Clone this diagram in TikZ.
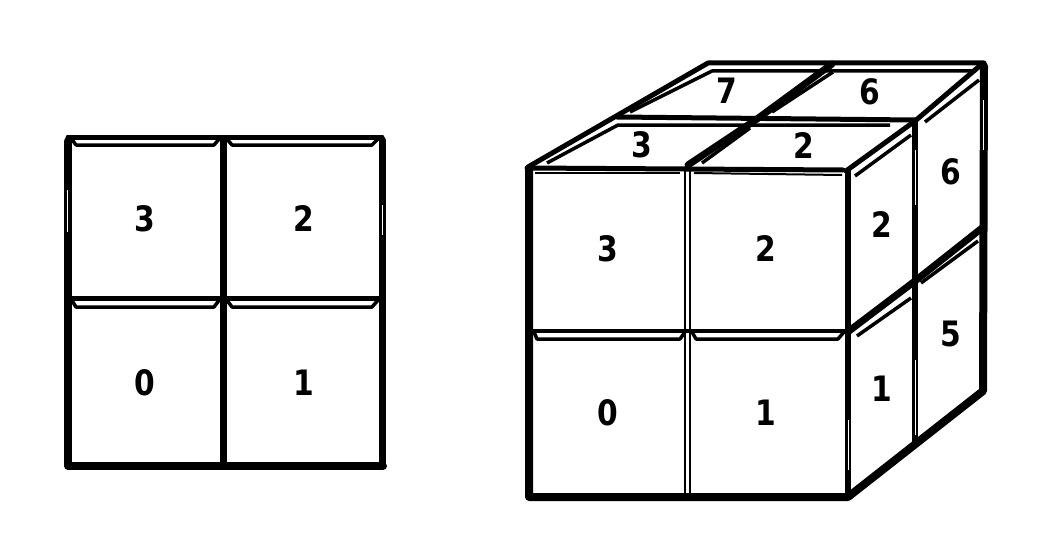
\documentclass[tikz,border=0pt]{standalone}
\usepackage{fontspec}
\setmainfont[FakeStretch=0.85]{DejaVu Sans}
\tikzset{
  x=1pt,y=-1pt,
  digit/.style={font=\fontsize{35}{35}\selectfont\bfseries,inner sep=0pt},
  heavy/.style={line width=8pt,line cap=round,line join=round},
  med/.style={line width=5pt,line cap=round,line join=round},
  lite/.style={line width=3.5pt,line join=round},
  fine/.style={line width=2pt,line join=round},
  slit/.style={white,line width=1pt}
}
\begin{document}
\begin{tikzpicture}
\useasboundingbox (0,0) rectangle (1053,543);
% ---------- left square
\draw[med] (68,137) -- (382,137);
\draw[heavy] (68,141) -- (68,466) -- (383,466);
\draw[line width=7pt,line cap=round] (382,140) -- (382,466);
\draw[line width=7pt] (223,137) -- (223,466);
\draw[med] (67,298) -- (382,298);
\foreach \ya/\yb in {137/145,298/307}{
  \draw[lite] (71,\ya+1) -- (76,\yb) -- (214,\yb) -- (220,\ya+1);
  \draw[lite] (226,\ya+1) -- (232,\yb) -- (372,\yb) -- (379,\ya+1);
}
\draw[slit] (67,190) -- (67,232);
\draw[slit] (382,205) -- (382,235);
\node[digit] (la) at (144.5,219) {3};
\node[digit] (lb) at (303.5,219) {2};
\node[digit] (lc) at (144.5,383) {0};
\node[digit] (ld) at (303.5,383) {1};
% ---------- cube: outline
\draw[heavy] (529,170) -- (529,497) -- (848,497) -- (983,391) -- (984,66);
\draw[med] (528,167) -- (708,63) -- (984,63);
\draw[line width=6.5pt] (848,170) -- (848,497);
\draw[line width=6pt] (915,122) -- (915,442);
\draw[slit] (848,420) -- (848,470);
\draw[slit] (915,360) -- (915,435);
\draw[slit] (915,150) -- (915,205);
\draw[slit] (983,100) -- (983,150);
% front face
\draw[line width=2.5pt] (685,167) -- (685,497);
\draw[line width=2.5pt] (690,170) -- (690,497);
\draw[lite] (530,331) -- (846,331);
\draw[lite] (534,332) -- (537,339) -- (680,339) -- (685,332);
\draw[lite] (692,332) -- (696,339) -- (838,339) -- (844,332);
% top face
\draw[med] (527,168) -- (843,170);
\draw[fine] (535,173) -- (680,173);
\draw[fine] (694,173) -- (842,175);
\draw[lite] (547,163) -- (618,125) -- (890,125);
\draw[med] (617,117) -- (915,120);
\draw[lite] (630,112) -- (712,71) -- (976,71);
\draw[line width=7pt,line cap=round] (688,165) -- (757,119) -- (832,64);
\draw[lite] (702,163) -- (750,128);
\draw[lite] (772,112) -- (833,72);
\draw[med] (846,171) -- (915,121) -- (982,64);
\draw[lite] (855,176) -- (911,135);
\draw[lite] (925,122) -- (979,80);
% right face
\draw[line width=7pt] (849,331) -- (915,281) -- (982,228);
\draw[lite] (857,336) -- (911,298);
\draw[lite] (921,283) -- (978,241);
\node[digit] (ca) at (607.5,249) {3};
\node[digit] (cb) at (765.5,249) {2};
\node[digit] (cc) at (607.5,413) {0};
\node[digit] (cd) at (765.5,413) {1};
\node[digit] (ce) at (881.5,225) {2};
\node[digit] (cf) at (881.5,389) {1};
\node[digit] (cg) at (950.5,172) {6};
\node[digit] (ch) at (950.5,334) {5};
\node[digit] (ci) at (641.5,145) {3};
\node[digit] (cj) at (803.5,146) {2};
\node[digit] (ck) at (726.5,91) {7};
\node[digit] (cl) at (869.5,92) {6};
\end{tikzpicture}
\end{document}
